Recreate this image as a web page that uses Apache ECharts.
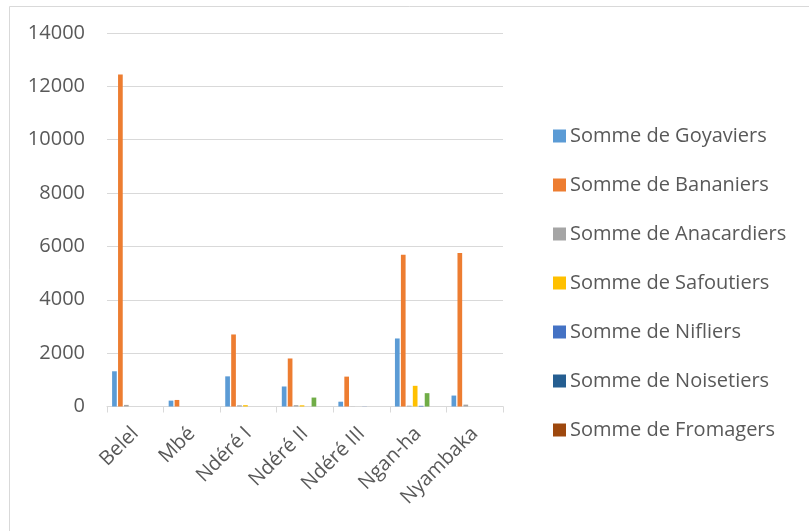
<!DOCTYPE html>
<html>
<head>
<meta charset="utf-8">
<script src="https://cdn.jsdelivr.net/npm/echarts@6/dist/echarts.min.js"></script>
<style>html,body{margin:0;padding:0;background:#fff;}#c{width:809px;height:531px;}</style>
</head>
<body>
<div id="c"></div>
<script>
const categories = ['Belel', 'Mbé', 'Ndéré I', 'Ndéré II', 'Ndéré III', 'Ngan-ha', 'Nyambaka'];
const goyaviers   = [1320, 220, 1130, 750, 180, 2550, 410];
const bananiers   = [12440, 245, 2700, 1800, 1120, 5690, 5750];
const anacardiers = [60, 0, 45, 50, 5, 30, 70];
const safoutiers  = [0, 0, 50, 45, 0, 775, 0];
const nifliers    = [0, 0, 0, 0, 5, 25, 0];
const serie6      = [0, 0, 0, 335, 0, 500, 0];
const noisetiers  = [0, 0, 0, 0, 0, 0, 0];
const fromagers   = [0, 0, 0, 0, 0, 0, 0];
const yTicks = { min: 0, max: 14000, interval: 2000 };

const seriesDefs = [
  ['Somme de Goyaviers', goyaviers, '#5B9BD5'],
  ['Somme de Bananiers', bananiers, '#ED7D31'],
  ['Somme de Anacardiers', anacardiers, '#A5A5A5'],
  ['Somme de Safoutiers', safoutiers, '#FFC000'],
  ['Somme de Nifliers', nifliers, '#4472C4'],
  ['Série 6', serie6, '#70AD47'],
  ['Somme de Noisetiers', noisetiers, '#255E91'],
  ['Somme de Fromagers', fromagers, '#9E480E']
];

const FONT = 'Open Sans, Liberation Sans, sans-serif';
const chart = echarts.init(document.getElementById('c'), null, {renderer: 'canvas'});
chart.setOption({
  animation: false,
  backgroundColor: '#ffffff',
  graphic: [{
    type: 'rect', left: 7, top: 4, z: -10,
    shape: { width: 820, height: 600 },
    style: { fill: 'none', stroke: '#D9D9D9', lineWidth: 1 }
  }],
  grid: { left: 107, right: 306, top: 33, bottom: 124.5 },
  legend: {
    orient: 'vertical', left: 548, top: 120,
    itemWidth: 13, itemHeight: 13, itemGap: 27,
    icon: 'rect',
    data: seriesDefs.filter(s => s[0] !== 'Série 6').map(s => s[0]),
    textStyle: { fontFamily: FONT, fontSize: 20, color: '#595959', height: 22, lineHeight: 22, padding: [0, 0, 0, -1] }
  },
  xAxis: {
    type: 'category', data: categories,
    axisLine: { lineStyle: { color: '#D9D9D9', width: 1 } },
    axisTick: { show: true, length: 6, alignWithLabel: false, lineStyle: { color: '#D9D9D9' } },
    axisLabel: { rotate: 45, margin: 24, fontSize: 20, color: '#595959', fontFamily: FONT }
  },
  yAxis: {
    type: 'value', min: yTicks.min, max: yTicks.max, interval: yTicks.interval,
    axisLine: { show: false }, axisTick: { show: false },
    splitLine: { lineStyle: { color: '#D9D9D9', width: 1 } },
    axisLabel: { margin: 22, fontSize: 20, color: '#595959', fontFamily: FONT, formatter: v => String(v) }
  },
  series: seriesDefs.map(s => ({
    name: s[0], type: 'bar', data: s[1],
    itemStyle: { color: s[2] },
    barGap: '27%', barCategoryGap: '18%'
  }))
});
</script>
</body>
</html>
